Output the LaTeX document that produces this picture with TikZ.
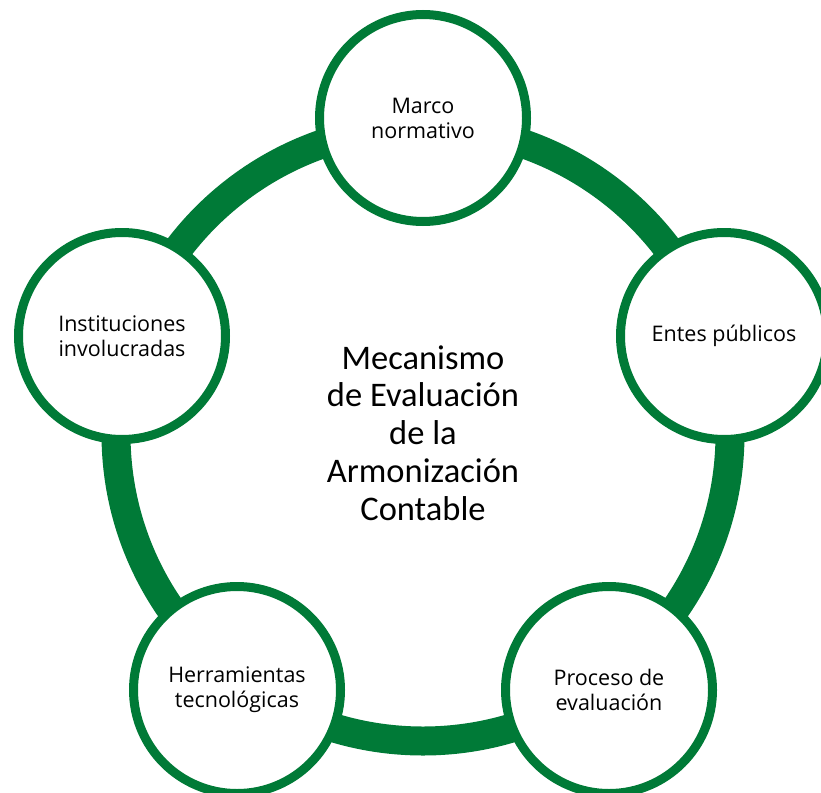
\documentclass[tikz,border=0pt]{standalone}
\usepackage{fontspec}
\usepackage{xcolor}
\setmainfont{Carlito}
\newfontfamily\circfont{Open Sans}
\definecolor{verde}{HTML}{007A37}

\begin{document}
\begin{tikzpicture}[x=1pt, y=-1pt,
    stage/.style={circle, draw=verde, line width=9pt, fill=white,
      minimum size=207pt, inner sep=0pt, align=center,
      font=\circfont\fontsize{21.5}{25}\selectfont}]
        \useasboundingbox (0,0) rectangle (821,792);
        \clip (0,0) rectangle (821,792);

        % anillo
        \draw [verde, line width=29pt] (423,434) circle (307pt);

        % etapas
        \node [stage] (marco) at (423,118) {Marco\\normativo};
        \node [stage] (entes) at (724,336) {Entes p\'ublicos};
        \node [stage] (proceso) at (609,690) {Proceso de\\evaluaci\'on};
        \node [stage] (herramientas) at (237,690) {Herramientas\\tecnol\'ogicas};
        \node [stage] (instituciones) at (122,336) {Instituciones\\involucradas};

        \node [align=center, font=\fontsize{34.5}{37.8}\selectfont] (mecanismo) at (423,433)
            {Mecanismo\\de Evaluaci\'on\\de la\\Armonizaci\'on\\Contable};
\end{tikzpicture}
\end{document}
